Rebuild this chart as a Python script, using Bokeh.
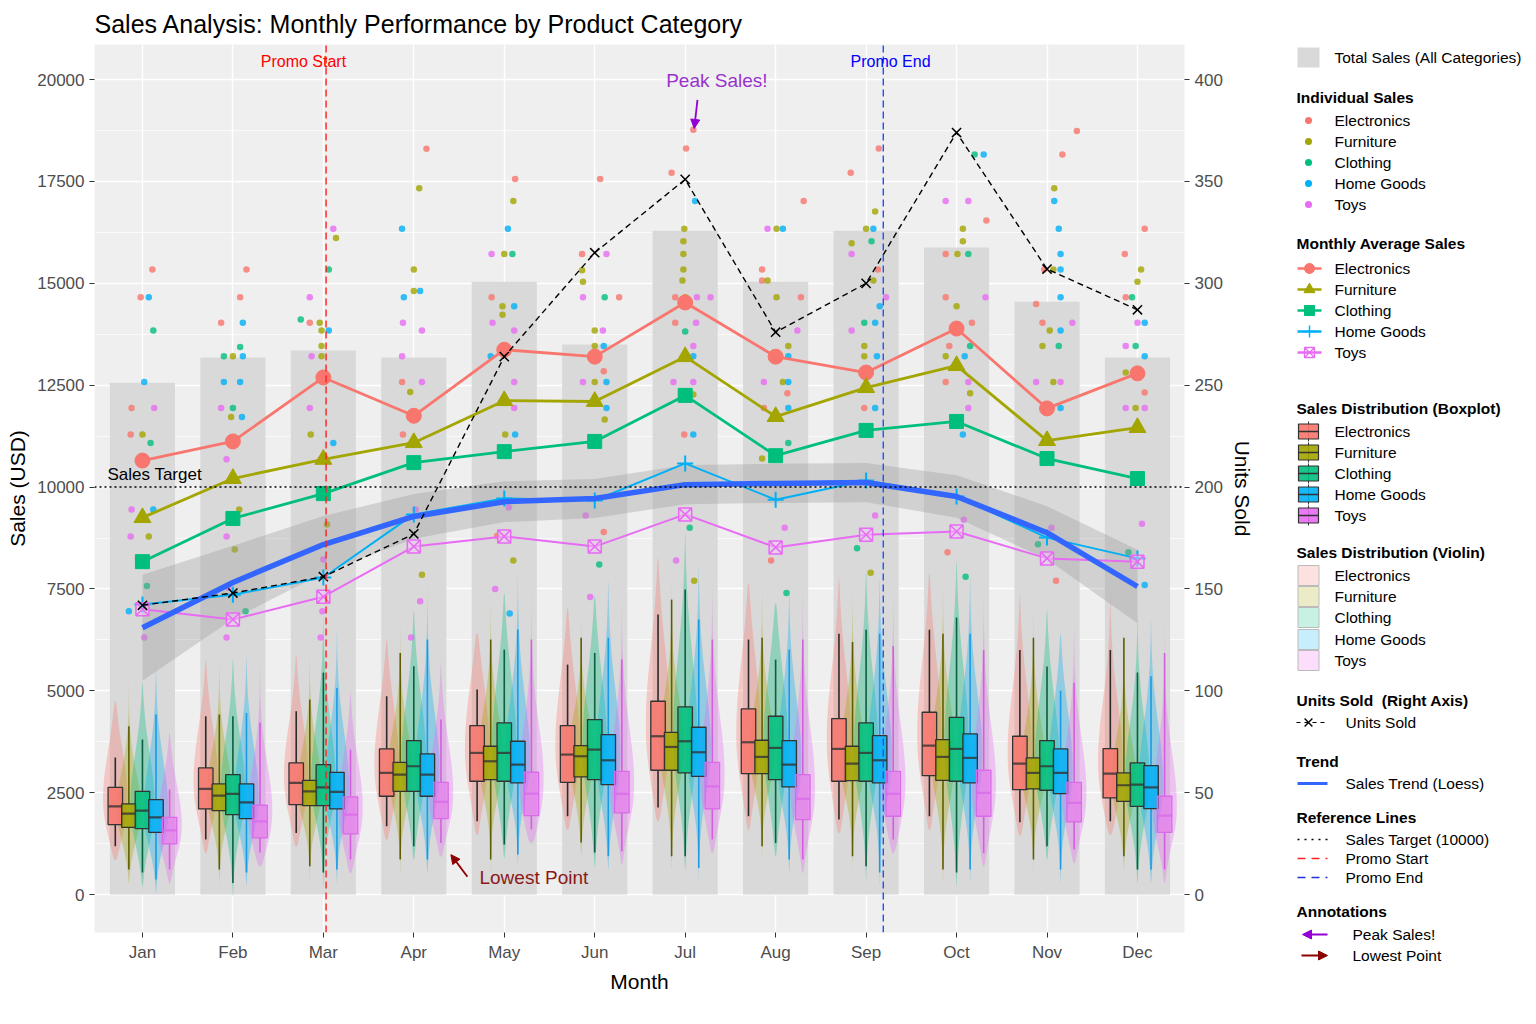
import numpy as np
from bokeh.plotting import figure
from bokeh.models import Range1d, LinearAxis, FixedTicker, Label, Arrow, NormalHead
from bokeh.layouts import row
from bokeh.embed import file_html
from bokeh.resources import INLINE

FONT = "Liberation Sans"

# ---------------- data ----------------
months = ["Jan", "Feb", "Mar", "Apr", "May", "Jun", "Jul", "Aug", "Sep", "Oct", "Nov", "Dec"]
categories = ["Electronics", "Furniture", "Clothing", "Home Goods", "Toys"]
cat_colors = ["#F8766D", "#A3A500", "#00BF7D", "#00B0F6", "#E76BF3"]

total_sales = [12560, 13180, 13350, 13180, 15040, 13500, 16290, 15040, 16290, 15880, 14550, 13180]

avg_electronics = [10650, 11120, 12690, 11750, 13370, 13200, 14530, 13200, 12810, 13890, 11930, 12790]
avg_furniture = [9250, 10210, 10680, 11090, 12120, 12100, 13200, 11730, 12440, 12980, 11140, 11460]
avg_clothing = [8170, 9230, 9840, 10600, 10870, 11120, 12250, 10770, 11390, 11610, 10700, 10210]
avg_home_goods = [7120, 7360, 7780, 9330, 9720, 9670, 10580, 9690, 10160, 9770, 8760, 8250]
avg_toys = [7000, 6750, 7310, 8540, 8790, 8540, 9330, 8520, 8830, 8910, 8250, 8170]

units_sold = [142, 148, 156, 177, 264, 315, 351, 276, 300, 374, 307, 287]

trend = [6550, 7660, 8590, 9280, 9640, 9720, 10060, 10090, 10110, 9770, 8880, 7560]
trend_upper = [7850, 8560, 9290, 9830, 10140, 10200, 10540, 10570, 10590, 10290, 9530, 8460]
trend_lower = [5250, 6760, 7890, 8730, 9140, 9240, 9580, 9610, 9630, 9250, 8230, 6660]

# boxplot statistics, rows = categories, columns = months
box_low = [
    [1186, 1350, 1513, 1676, 1800, 1922, 2135, 1922, 1840, 1922, 1775, 1799],
    [613, 613, 695, 859, 859, 1276, 941, 1186, 941, 613, 859, 941],
    [540, 286, 540, 1186, 1227, 1030, 941, 1268, 695, 540, 1186, 613],
    [368, 540, 613, 859, 982, 941, 655, 859, 540, 613, 613, 613],
    [613, 1030, 859, 1268, 1595, 1063, 1350, 859, 1350, 1023, 1104, 613],
]
box_q1 = [
    [1718, 2102, 2209, 2413, 2781, 2756, 3051, 2969, 2781, 2920, 2577, 2372],
    [1652, 2061, 2184, 2535, 2822, 2888, 3051, 2969, 2798, 2805, 2593, 2290],
    [1620, 1963, 2184, 2535, 2781, 2822, 2985, 2822, 2781, 2781, 2560, 2167],
    [1529, 1865, 2102, 2413, 2740, 2699, 2903, 2643, 2740, 2740, 2478, 2110],
    [1243, 1391, 1489, 1865, 1939, 2004, 2102, 1840, 1922, 1922, 1784, 1529],
]
box_median = [
    [2167, 2593, 2740, 2986, 3477, 3436, 3886, 3738, 3575, 3656, 3215, 2969],
    [1988, 2429, 2535, 2945, 3272, 3395, 3623, 3379, 3215, 3379, 2986, 2683],
    [2061, 2470, 2633, 3149, 3477, 3558, 3763, 3599, 3477, 3575, 3149, 2699],
    [1897, 2265, 2520, 2945, 3190, 3296, 3493, 3190, 3296, 3354, 2986, 2633],
    [1578, 1799, 1963, 2274, 2478, 2470, 2658, 2348, 2470, 2495, 2249, 1939],
]
box_q3 = [
    [2633, 3108, 3231, 3575, 4147, 4147, 4745, 4556, 4319, 4474, 3886, 3583],
    [2225, 2715, 2805, 3247, 3640, 3656, 3983, 3787, 3640, 3804, 3354, 2986],
    [2535, 2945, 3190, 3779, 4213, 4294, 4604, 4376, 4213, 4351, 3779, 3231],
    [2331, 2715, 3001, 3452, 3763, 3926, 4106, 3779, 3902, 3943, 3575, 3166],
    [1897, 2192, 2396, 2756, 3002, 3026, 3247, 2945, 3026, 3051, 2756, 2413],
]
box_high = [
    [3362, 4376, 4499, 4867, 5030, 5644, 6871, 6258, 6400, 6500, 6000, 6000],
    [4130, 4417, 4785, 5930, 6258, 6300, 7239, 6300, 6200, 6400, 6300, 6300],
    [3804, 4376, 5448, 5603, 6012, 5930, 7485, 5767, 6500, 6800, 5600, 5450],
    [4417, 4458, 5072, 6258, 6503, 6300, 6748, 6012, 6400, 6400, 5000, 5357],
    [2577, 4220, 3558, 4294, 6258, 5767, 6258, 6258, 6100, 6000, 5200, 5930],
]

# individual sales points: (category index, sales, horizontal jitter)
jan_points = [(0, 15340, 0.11), (0, 14660, -0.02), (3, 14660, 0.07), (2, 13840, 0.12), (3, 12580, 0.02),
              (0, 11940, -0.12), (4, 11940, 0.13), (0, 11290, -0.13), (1, 11290, 0.0), (2, 11080, 0.09),
              (3, 9450, 0.12), (4, 9450, -0.12), (1, 8790, 0.07), (4, 8790, -0.13), (0, 8260, -0.05),
              (2, 7570, 0.05), (3, 6950, -0.15), (4, 6310, 0.02)]
feb_points = [(0, 15340, 0.15), (0, 14660, 0.08), (0, 14030, -0.13), (3, 14030, 0.11), (2, 13440, 0.08),
              (2, 13210, -0.1), (1, 13210, 0.0), (3, 13210, 0.11), (3, 12580, -0.1), (3, 12580, 0.08),
              (4, 11940, -0.13), (2, 11940, 0.0), (3, 11720, 0.1), (1, 11720, -0.02), (4, 10680, -0.07),
              (1, 9450, 0.07), (4, 8790, -0.07), (1, 8470, 0.02), (4, 7530, -0.05), (2, 6950, 0.14),
              (4, 6310, -0.07)]
mar_points = [(4, 16340, 0.11), (1, 16110, 0.14), (2, 15340, 0.06), (4, 14660, -0.15), (2, 14110, -0.25),
              (0, 14030, -0.15), (1, 14030, -0.04), (1, 13840, -0.02), (3, 13840, 0.06), (1, 13460, -0.02),
              (1, 13210, -0.02), (4, 13210, -0.13), (4, 11940, -0.15), (1, 11290, -0.14), (3, 11080, 0.11),
              (4, 10680, -0.03), (1, 9080, 0.04), (4, 8220, 0.0), (4, 6950, -0.01), (4, 6310, -0.03)]
apr_points = [(0, 18300, 0.14), (1, 17330, 0.06), (3, 16340, -0.13), (1, 15340, 0.0), (1, 14810, 0.0),
              (3, 14810, 0.07), (3, 14660, -0.11), (4, 14030, -0.12), (4, 13840, 0.09), (4, 13210, -0.13),
              (0, 12580, -0.13), (4, 12580, 0.09), (1, 12330, -0.04), (0, 11290, -0.12), (4, 9450, 0.02),
              (1, 7850, 0.09), (4, 7200, 0.07), (4, 6310, -0.03)]
may_points = [(0, 17560, 0.12), (1, 17020, 0.1), (3, 16340, 0.04), (4, 15720, -0.14), (1, 15720, 0.0),
              (2, 15720, 0.09), (0, 14660, -0.14), (3, 14440, 0.11), (1, 14440, -0.02), (1, 14230, -0.02),
              (4, 14030, -0.13), (4, 13840, 0.11), (3, 13210, -0.15), (4, 12580, 0.11), (4, 11940, 0.11),
              (1, 11290, 0.01), (3, 11290, 0.12), (4, 9500, 0.05), (0, 8800, -0.08), (1, 8200, 0.1),
              (4, 7500, -0.1), (3, 6900, 0.06)]
jun_points = [(0, 17560, 0.06), (0, 15720, -0.14), (4, 15720, 0.13), (1, 15320, -0.14), (1, 15040, -0.13),
              (4, 14660, -0.13), (2, 14660, 0.11), (0, 14660, 0.27), (1, 13840, 0.0), (4, 13840, 0.09),
              (1, 13460, 0.0), (3, 13460, 0.1), (0, 12840, 0.1), (4, 12580, -0.13), (1, 12580, 0.0),
              (3, 12580, 0.13), (3, 11940, 0.13), (1, 11660, 0.11), (4, 9300, -0.1), (0, 8900, 0.1),
              (2, 8100, 0.05), (4, 7300, -0.05)]
jul_points = [(0, 18770, 0.09), (0, 18310, 0.01), (0, 17710, -0.15), (3, 17020, 0.11), (1, 16340, -0.01),
              (1, 16030, -0.02), (1, 15720, -0.02), (1, 15340, -0.02), (1, 15070, -0.03), (0, 14660, -0.11),
              (1, 14660, 0.0), (4, 14660, 0.13), (4, 14660, 0.28), (0, 14030, -0.11), (4, 14030, 0.12),
              (2, 13820, 0.0), (4, 13460, 0.09), (3, 13210, 0.09), (4, 12580, -0.13), (4, 12580, 0.09),
              (1, 12270, 0.09), (0, 11290, -0.01), (3, 11290, 0.09), (2, 9000, 0.05), (4, 8200, -0.1),
              (1, 7700, 0.1)]
aug_points = [(0, 17020, 0.31), (4, 16340, -0.09), (1, 16340, 0.01), (3, 16340, 0.08), (0, 15340, -0.15),
              (0, 15070, -0.15), (1, 15070, -0.09), (0, 14660, 0.28), (1, 14660, 0.01), (4, 13840, 0.24),
              (1, 13460, 0.14), (3, 13210, 0.14), (4, 12580, -0.13), (1, 12580, 0.08), (3, 12580, 0.14),
              (0, 12300, 0.13), (0, 11940, -0.13), (3, 11940, 0.14), (2, 11080, 0.14), (1, 10700, -0.15),
              (4, 9000, 0.1), (0, 8200, -0.05), (2, 7400, 0.12)]
sep_points = [(0, 17710, -0.17), (0, 18310, 0.14), (1, 16760, 0.1), (1, 16340, 0.0), (3, 16340, 0.08),
              (1, 15980, -0.16), (2, 16030, 0.06), (4, 15720, -0.16), (0, 15340, 0.13), (1, 15070, 0.08),
              (4, 14660, 0.22), (3, 14440, 0.15), (2, 14030, -0.02), (3, 14030, 0.1), (4, 13840, -0.16),
              (1, 13460, -0.02), (1, 13210, -0.02), (3, 13210, 0.12), (0, 11940, -0.02), (3, 11940, 0.1),
              (4, 9300, 0.1), (2, 8500, -0.1), (1, 7900, 0.05)]
oct_points = [(4, 17020, -0.12), (4, 17020, 0.13), (2, 18160, 0.2), (3, 18160, 0.3), (0, 16540, 0.33),
              (1, 16340, 0.07), (1, 16030, 0.07), (0, 15720, -0.12), (1, 15720, 0.01), (2, 15720, 0.13),
              (0, 14660, -0.12), (4, 14660, 0.32), (1, 14440, 0.0), (0, 14030, 0.17), (0, 13460, -0.08),
              (2, 13460, 0.15), (1, 13210, -0.12), (3, 13210, 0.09), (0, 12580, -0.12), (4, 12580, 0.13),
              (1, 12300, 0.15), (4, 11940, 0.13), (3, 11290, 0.07), (4, 9200, 0.08), (0, 8400, -0.1),
              (2, 7800, 0.1)]
nov_points = [(0, 18740, 0.33), (0, 18160, 0.17), (1, 17330, 0.08), (3, 17020, 0.08), (3, 16340, 0.13),
              (3, 15720, 0.15), (0, 15340, -0.03), (1, 15340, 0.07), (3, 15340, 0.15), (3, 14660, 0.15),
              (0, 14490, -0.12), (0, 14030, -0.05), (4, 14030, 0.28), (1, 13840, 0.03), (3, 13840, 0.15),
              (1, 13460, -0.05), (2, 13460, 0.13), (4, 12580, -0.12), (1, 12580, 0.07), (4, 12580, 0.15),
              (3, 11940, 0.15), (4, 9000, 0.05), (2, 8600, -0.1), (0, 7700, 0.1)]
dec_points = [(0, 16340, 0.08), (0, 15720, -0.14), (1, 15340, 0.04), (1, 15040, 0.0), (0, 14660, -0.13),
              (2, 14660, -0.06), (3, 14030, 0.08), (4, 14030, 0.0), (4, 13460, -0.13), (2, 13460, -0.02),
              (3, 13210, 0.08), (1, 12810, -0.13), (0, 12320, 0.08), (4, 11940, -0.13), (1, 11940, -0.02),
              (4, 11940, 0.08), (4, 9100, 0.05), (2, 8400, -0.1), (3, 7600, 0.08)]

month_points = [jan_points, feb_points, mar_points, apr_points, may_points, jun_points,
                jul_points, aug_points, sep_points, oct_points, nov_points, dec_points]

sales_target = 10000
promo_start_x = 3.03
promo_end_x = 9.19

# ---------------- main figure ----------------
BORDER_TOP, BORDER_BOTTOM = 44, 75
FIG_H = 1007
mx = list(range(1, 13))
YMIN, YMAX = -930, 20860
p = figure(width=1279, height=FIG_H, output_backend="svg", toolbar_location=None,
           x_range=Range1d(0.47, 12.52), y_range=Range1d(YMIN, YMAX),
           min_border_left=94, min_border_right=95, min_border_top=BORDER_TOP, min_border_bottom=BORDER_BOTTOM,
           background_fill_color="#EFEFEF", border_fill_color="white", outline_line_color=None)
p.frame_align = False
p.extra_y_ranges = {"units": Range1d(YMIN / 50.0, YMAX / 50.0)}

p.title.text = "Sales Analysis: Monthly Performance by Product Category"
p.title.text_font = FONT
p.title.text_font_size = "25px"
p.title.text_font_style = "normal"
p.title.text_color = "black"
p.title.standoff = 13

yt = [i * 2500 for i in range(9)]
p.yaxis.ticker = FixedTicker(ticks=yt, minor_ticks=[1250 + i * 2500 for i in range(8)])
p.xaxis.ticker = FixedTicker(ticks=mx)
p.xaxis.major_label_overrides = {i + 1: m for i, m in enumerate(months)}
p.xaxis.axis_label = "Month"
p.yaxis.axis_label = "Sales (USD)"

ax_r = LinearAxis(y_range_name="units", ticker=FixedTicker(ticks=[i * 50 for i in range(9)]),
                  axis_label="Units Sold")
p.add_layout(ax_r, "right")

for ax in p.axis:
    ax.axis_line_color = None
    ax.major_tick_line_color = "#333333"
    ax.major_tick_in = 0
    ax.major_tick_out = 5
    ax.minor_tick_line_color = None
    ax.major_label_text_font = FONT
    ax.major_label_text_font_size = "17px"
    ax.major_label_text_color = "#4D4D4D"
    ax.axis_label_text_font = FONT
    ax.axis_label_text_font_size = "21px"
    ax.axis_label_text_font_style = "normal"
    ax.axis_label_text_color = "black"

p.xgrid.grid_line_color = "white"
p.xgrid.grid_line_width = 1.4
p.ygrid.grid_line_color = "white"
p.ygrid.grid_line_width = 1.4
p.ygrid.minor_grid_line_color = "white"
p.ygrid.minor_grid_line_width = 0.7

# total sales bars
p.vbar(x=mx, width=0.72, top=total_sales, bottom=0, fill_color="#D9D9D9", line_color=None)

# violins
offsets = [-0.3, -0.15, 0.0, 0.15, 0.3]
vx, vy, vc = [], [], []
for ci in range(5):
    for mi in range(12):
        lo, q1, md, q3, hi = (box_low[ci][mi], box_q1[ci][mi], box_median[ci][mi],
                              box_q3[ci][mi], box_high[ci][mi])
        ys = np.linspace(lo - 350, hi + 1400, 90)
        sdl = (md - q1) * 1.5 + 250
        sdh = (q3 - md) * 1.8 + 550
        z = np.where(ys < md, (ys - md) / sdl, (ys - md) / sdh)
        w = np.exp(-0.5 * z * z)
        t = (ys - ys[0]) / (ys[-1] - ys[0])
        w = w * np.sin(np.pi * t) ** 0.35
        w = 0.135 * w / w.max()
        xc = mi + 1 + offsets[ci]
        vx.append(list(np.concatenate([xc - w, (xc + w)[::-1]])))
        vy.append(list(np.concatenate([ys, ys[::-1]])))
        vc.append(cat_colors[ci])
p.patches(vx, vy, fill_color=vc, fill_alpha=0.33, line_color=None)

# boxplots
whisker_colors = ["#2A2A2A", "#5E5E00", "#0B5E3E", "#1A9BE6", "#D35FE0"]
box_line_colors = ["#333333", "#333333", "#333333", "#333333", "#D86BE8"]
box_fill_alpha = [0.85, 0.85, 0.85, 0.85, 0.55]
bw = 0.16
for ci in range(5):
    xs = [m + offsets[ci] for m in mx]
    p.segment(x0=xs, y0=box_q3[ci], x1=xs, y1=box_high[ci], line_color=whisker_colors[ci], line_width=1.6)
    p.segment(x0=xs, y0=box_low[ci], x1=xs, y1=box_q1[ci], line_color=whisker_colors[ci], line_width=1.6)
    p.vbar(x=xs, width=bw, top=box_q3[ci], bottom=box_q1[ci], fill_color=cat_colors[ci],
           fill_alpha=box_fill_alpha[ci], line_color=box_line_colors[ci], line_width=1.3)
    p.segment(x0=[x - bw / 2 for x in xs], y0=box_median[ci], x1=[x + bw / 2 for x in xs], y1=box_median[ci],
              line_color=box_line_colors[ci], line_width=2.2, line_alpha=0.8)

# individual points
px, py, pc = [], [], []
for mi, pts in enumerate(month_points):
    for (ci, s, dx) in pts:
        px.append(mi + 1 + dx)
        py.append(s)
        pc.append(cat_colors[ci])
p.scatter(px, py, size=6.5, fill_color=pc, line_color=None, fill_alpha=0.8)

# loess ribbon
p.varea(x=mx, y1=trend_lower, y2=trend_upper, fill_color="#9A9A9A", fill_alpha=0.35)

# monthly averages
avg_series = [avg_electronics, avg_furniture, avg_clothing, avg_home_goods, avg_toys]
line_widths = [2.8, 2.8, 2.8, 2.0, 2.0]
for ci in range(5):
    p.line(mx, avg_series[ci], line_color=cat_colors[ci], line_width=line_widths[ci])
p.scatter(mx, avg_electronics, marker="circle", size=15, fill_color=cat_colors[0], line_color=cat_colors[0])
p.scatter(mx, avg_furniture, marker="triangle", size=17, fill_color=cat_colors[1], line_color=cat_colors[1])
p.scatter(mx, avg_clothing, marker="square", size=14, fill_color=cat_colors[2], line_color=cat_colors[2])
p.scatter(mx, avg_home_goods, marker="cross", size=16, line_color=cat_colors[3], line_width=2)
p.scatter(mx, avg_toys, marker="square_x", size=13, fill_color="#F3C6F8", fill_alpha=0.5,
          line_color=cat_colors[4], line_width=1.5)

# trend line
p.line(mx, trend, line_color="#3366FF", line_width=5.5)

# units sold (right axis)
p.line(mx, units_sold, y_range_name="units", line_color="black", line_width=1.4, line_dash="6 4")
p.scatter(mx, units_sold, y_range_name="units", marker="x", size=13, line_color="black", line_width=1.5)

# reference lines
p.line([0.47, 12.52], [sales_target, sales_target], line_color="black", line_width=1.6, line_dash="2 3")
p.line([promo_start_x, promo_start_x], [YMIN, YMAX], line_color="#FF2020", line_width=1.4, line_dash="7 4")
p.line([promo_end_x, promo_end_x], [YMIN, YMAX], line_color="#2050FF", line_width=1.4, line_dash="7 4")

p.add_layout(Label(x=0.613, y=10320, text="Sales Target", text_font=FONT, text_font_size="17px",
                   text_color="black", text_baseline="middle", text_align="left"))
p.add_layout(Label(x=2.78, y=20440, text="Promo Start", text_font=FONT, text_font_size="16px",
                   text_color="#FF0000", text_baseline="middle", text_align="center"))
p.add_layout(Label(x=9.27, y=20440, text="Promo End", text_font=FONT, text_font_size="16px",
                   text_color="#0000FF", text_baseline="middle", text_align="center"))
p.add_layout(Label(x=7.35, y=19970, text="Peak Sales!", text_font=FONT, text_font_size="19px",
                   text_color="#9932CC", text_baseline="middle", text_align="center"))
p.add_layout(Label(x=4.726, y=417, text="Lowest Point", text_font=FONT, text_font_size="19px",
                   text_color="#8B1A1A", text_baseline="middle", text_align="left"))
p.add_layout(Arrow(end=NormalHead(size=9, fill_color="#9400D3", line_color="#9400D3"),
                   x_start=7.136, y_start=19500, x_end=7.10, y_end=18800,
                   line_color="#9400D3", line_width=1.8))
p.add_layout(Arrow(end=NormalHead(size=9, fill_color="#8B0000", line_color="#8B0000"),
                   x_start=4.593, y_start=440, x_end=4.41, y_end=980,
                   line_color="#8B0000", line_width=1.8))

# ---------------- legend panel (page-pixel coordinates) ----------------
lg = figure(width=248, height=FIG_H, output_backend="svg", toolbar_location=None,
            x_range=Range1d(1280, 1528), y_range=Range1d(FIG_H + 1, 1),
            min_border_left=0, min_border_right=0, min_border_top=0, min_border_bottom=0,
            outline_line_color=None, background_fill_color="white", border_fill_color="white")
lg.frame_align = False
lg.axis.visible = False
lg.grid.visible = False


def ltext(x, y, t, bold=False):
    lg.add_layout(Label(x=x, y=y, text=t, text_font=FONT, text_font_size="15.5px",
                        text_font_style="bold" if bold else "normal", text_color="black",
                        text_baseline="middle", text_align="left"))


lg.rect(x=[1309], y=[58], width=22, height=20, fill_color="#D9D9D9", line_color=None)
ltext(1335, 58, "Total Sales (All Categories)")

ltext(1297, 98, "Individual Sales", True)
ind_y = [121, 142, 163, 184, 205]
lg.scatter([1309] * 5, ind_y, size=7, fill_color=cat_colors, line_color=None)
for i, c in enumerate(categories):
    ltext(1335, ind_y[i], c)

ltext(1297, 244, "Monthly Average Sales", True)
avg_y = [269, 290, 311, 332, 353]
for i in range(5):
    lg.line([1298, 1322], [avg_y[i], avg_y[i]], line_color=cat_colors[i], line_width=2.5)
    ltext(1335, avg_y[i], categories[i])
lg.scatter([1310], [avg_y[0]], marker="circle", size=10, fill_color=cat_colors[0], line_color=cat_colors[0])
lg.scatter([1310], [avg_y[1]], marker="triangle", size=11, fill_color=cat_colors[1], line_color=cat_colors[1])
lg.scatter([1310], [avg_y[2]], marker="square", size=10, fill_color=cat_colors[2], line_color=cat_colors[2])
lg.scatter([1310], [avg_y[3]], marker="cross", size=12, line_color=cat_colors[3], line_width=1.5)
lg.scatter([1310], [avg_y[4]], marker="square_x", size=10, fill_color=None, line_color=cat_colors[4],
           line_width=1.3)

ltext(1297, 409, "Sales Distribution (Boxplot)", True)
bx_y = [432, 453, 474, 495, 516]
for i in range(5):
    lg.segment(x0=[1309], y0=[bx_y[i] - 10], x1=[1309], y1=[bx_y[i] + 10], line_color="#333333", line_width=1)
    lg.rect(x=[1309], y=[bx_y[i]], width=20, height=15, fill_color=cat_colors[i], fill_alpha=0.9,
            line_color="#333333", line_width=1.2)
    lg.segment(x0=[1299], y0=[bx_y[i]], x1=[1319], y1=[bx_y[i]], line_color="#333333", line_width=1.5)
    ltext(1335, bx_y[i], categories[i])

ltext(1297, 553, "Sales Distribution (Violin)", True)
vl_y = [576, 597, 618, 640, 661]
for i in range(5):
    lg.rect(x=[1309], y=[vl_y[i]], width=21, height=20, fill_color=cat_colors[i], fill_alpha=0.22,
            line_color="#BBBBBB", line_width=1)
    ltext(1335, vl_y[i], categories[i])

ltext(1297, 701, "Units Sold\u00a0 (Right Axis)", True)
lg.line([1297, 1327], [723, 723], line_color="black", line_width=1.2, line_dash="4 4")
lg.scatter([1309], [723], marker="x", size=11, line_color="black", line_width=1.4)
ltext(1346, 723, "Units Sold")

ltext(1297, 762, "Trend", True)
lg.line([1298, 1328], [784, 784], line_color="#3366FF", line_width=3)
ltext(1346, 784, "Sales Trend (Loess)")

ltext(1297, 818, "Reference Lines", True)
lg.line([1298, 1328], [840, 840], line_color="black", line_width=1.3, line_dash="2 5")
ltext(1346, 840, "Sales Target (10000)")
lg.line([1298, 1328], [859, 859], line_color="#FF2020", line_width=1.5, line_dash="8 6")
ltext(1346, 859, "Promo Start")
lg.line([1298, 1328], [878, 878], line_color="#2030DD", line_width=1.5, line_dash="8 6")
ltext(1346, 878, "Promo End")

ltext(1297, 912, "Annotations", True)
lg.add_layout(Arrow(end=NormalHead(size=9, fill_color="#9400D3", line_color="#9400D3"),
                    x_start=1328, y_start=935, x_end=1303, y_end=935, line_color="#9400D3", line_width=2))
ltext(1353, 935, "Peak Sales!")
lg.add_layout(Arrow(end=NormalHead(size=9, fill_color="#8B0000", line_color="#8B0000"),
                    x_start=1302, y_start=956, x_end=1328, y_end=956, line_color="#8B0000", line_width=2))
ltext(1353, 956, "Lowest Point")

layout = row(p, lg)
open("out.html", "w").write(file_html(layout, INLINE))
